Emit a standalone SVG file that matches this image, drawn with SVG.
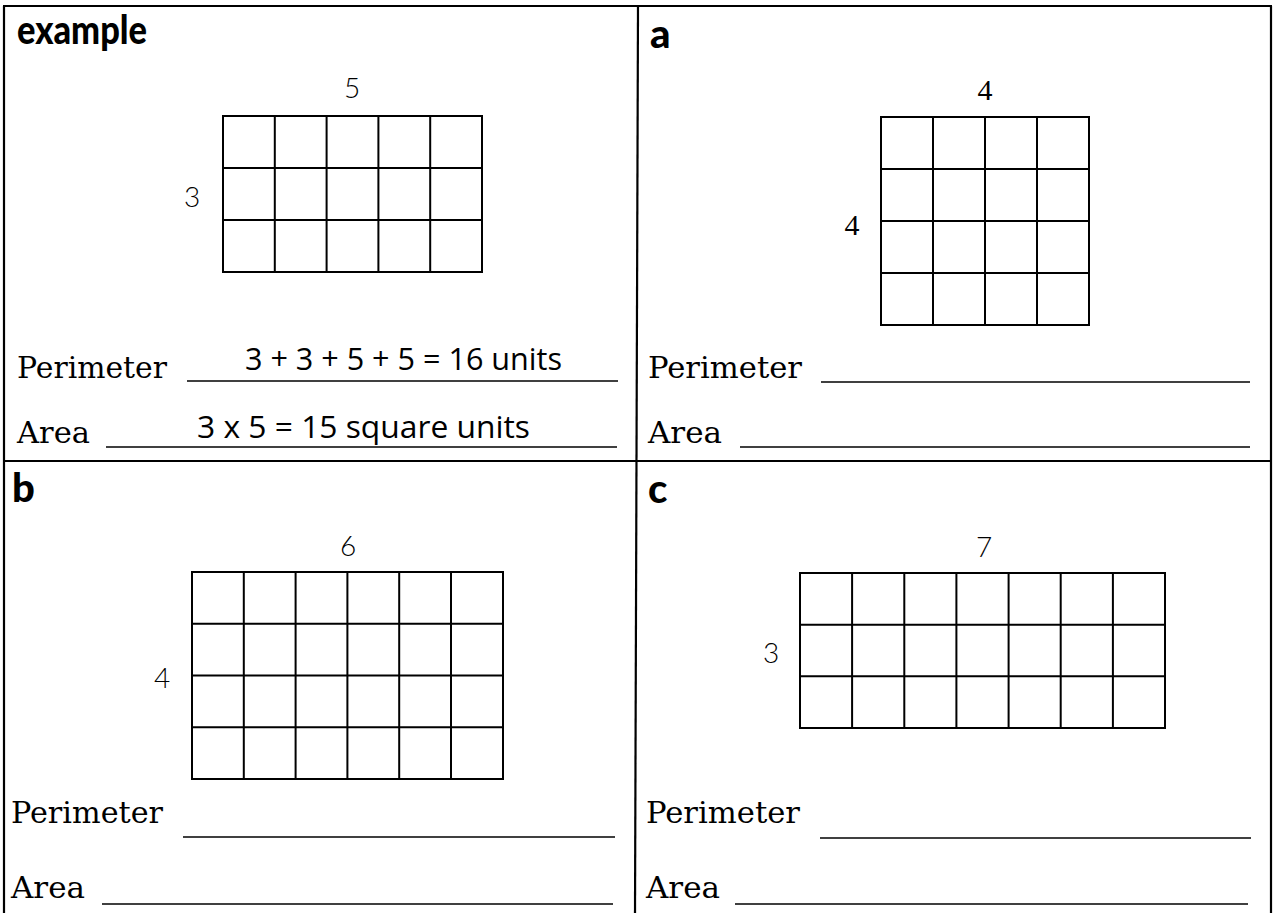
<svg xmlns="http://www.w3.org/2000/svg" width="1274" height="913" viewBox="0 0 1274 913">
<style>
.frame{stroke:#000;stroke-width:2.2;fill:none}
.grid{stroke:#000;stroke-width:2;fill:none}
.rule{stroke:#000;stroke-width:1.6}
.head{font-family:Lato,"DejaVu Sans",sans-serif;font-weight:900;font-size:40px;fill:#000}
.num{font-family:Lato,"Liberation Sans",sans-serif;font-weight:300;font-size:28px;fill:#000;text-anchor:middle}
.snum{font-family:"Liberation Serif",serif;font-size:30px;fill:#000;text-anchor:middle}
.lbl{font-family:"DejaVu Serif","Liberation Serif",serif;font-size:29px;fill:#000}
.hand{font-family:"Open Sans","Liberation Sans",sans-serif;font-size:31px;fill:#000}
</style>
<rect width="1274" height="913" fill="#fff"/>
<g id="frame">
<line class="frame" x1="3" y1="6" x2="1272" y2="6"/>
<line class="frame" x1="4" y1="6" x2="4" y2="913"/>
<line class="frame" x1="1271" y1="6" x2="1271" y2="913"/>
<line class="frame" x1="638" y1="6" x2="635" y2="913"/>
<line class="frame" x1="3" y1="461" x2="1272" y2="461"/>
</g>
<g id="example">
<text class="head" x="17" y="44" textLength="130" lengthAdjust="spacingAndGlyphs">example</text>
<text class="num" x="352" y="98">5</text>
<text class="num" x="192" y="207">3</text>
<path class="grid" d="M223 116H482V272H223Z M274.8 116V272 M326.6 116V272 M378.4 116V272 M430.2 116V272 M223 168H482 M223 220H482"/>
<text class="lbl" x="17" y="378" textLength="150" lengthAdjust="spacingAndGlyphs">Perimeter</text>
<line class="rule" x1="187" y1="381" x2="618" y2="381"/>
<text class="hand" x="245" y="370" textLength="317" lengthAdjust="spacingAndGlyphs">3 + 3 + 5 + 5 = 16 units</text>
<text class="lbl" x="17" y="443" textLength="73" lengthAdjust="spacingAndGlyphs">Area</text>
<line class="rule" x1="106" y1="447" x2="617" y2="447"/>
<text class="hand" x="197" y="438" textLength="333" lengthAdjust="spacingAndGlyphs">3 x 5 = 15 square units</text>
</g>
<g id="panel-a">
<text class="head" x="650" y="48">a</text>
<text class="snum" x="985" y="100">4</text>
<text class="snum" x="852" y="235">4</text>
<path class="grid" d="M881 117H1089V325H881Z M933 117V325 M985 117V325 M1037 117V325 M881 169H1089 M881 221H1089 M881 273H1089"/>
<text class="lbl" x="648" y="378" textLength="154" lengthAdjust="spacingAndGlyphs">Perimeter</text>
<line class="rule" x1="821" y1="382" x2="1250" y2="382"/>
<text class="lbl" x="648" y="443" textLength="74" lengthAdjust="spacingAndGlyphs">Area</text>
<line class="rule" x1="740" y1="447" x2="1250" y2="447"/>
</g>
<g id="panel-b">
<text class="head" x="12" y="502">b</text>
<text class="num" x="348" y="556">6</text>
<text class="num" x="162" y="688">4</text>
<path class="grid" d="M192 572H503V779H192Z M243.8 572V779 M295.6 572V779 M347.4 572V779 M399.2 572V779 M451 572V779 M192 623.75H503 M192 675.5H503 M192 727.25H503"/>
<text class="lbl" x="11" y="823" textLength="152" lengthAdjust="spacingAndGlyphs">Perimeter</text>
<line class="rule" x1="183" y1="837" x2="615" y2="837"/>
<text class="lbl" x="11" y="898" textLength="74" lengthAdjust="spacingAndGlyphs">Area</text>
<line class="rule" x1="102" y1="904" x2="613" y2="904"/>
</g>
<g id="panel-c">
<text class="head" x="648" y="503">c</text>
<text class="num" x="984" y="557">7</text>
<text class="num" x="771" y="663">3</text>
<path class="grid" d="M800 573H1165V728H800Z M852.1 573V728 M904.3 573V728 M956.4 573V728 M1008.6 573V728 M1060.7 573V728 M1112.9 573V728 M800 624.7H1165 M800 676.3H1165"/>
<text class="lbl" x="646" y="823" textLength="154" lengthAdjust="spacingAndGlyphs">Perimeter</text>
<line class="rule" x1="820" y1="838" x2="1251" y2="838"/>
<text class="lbl" x="646" y="898" textLength="74" lengthAdjust="spacingAndGlyphs">Area</text>
<line class="rule" x1="735" y1="904" x2="1248" y2="904"/>
</g>
</svg>
